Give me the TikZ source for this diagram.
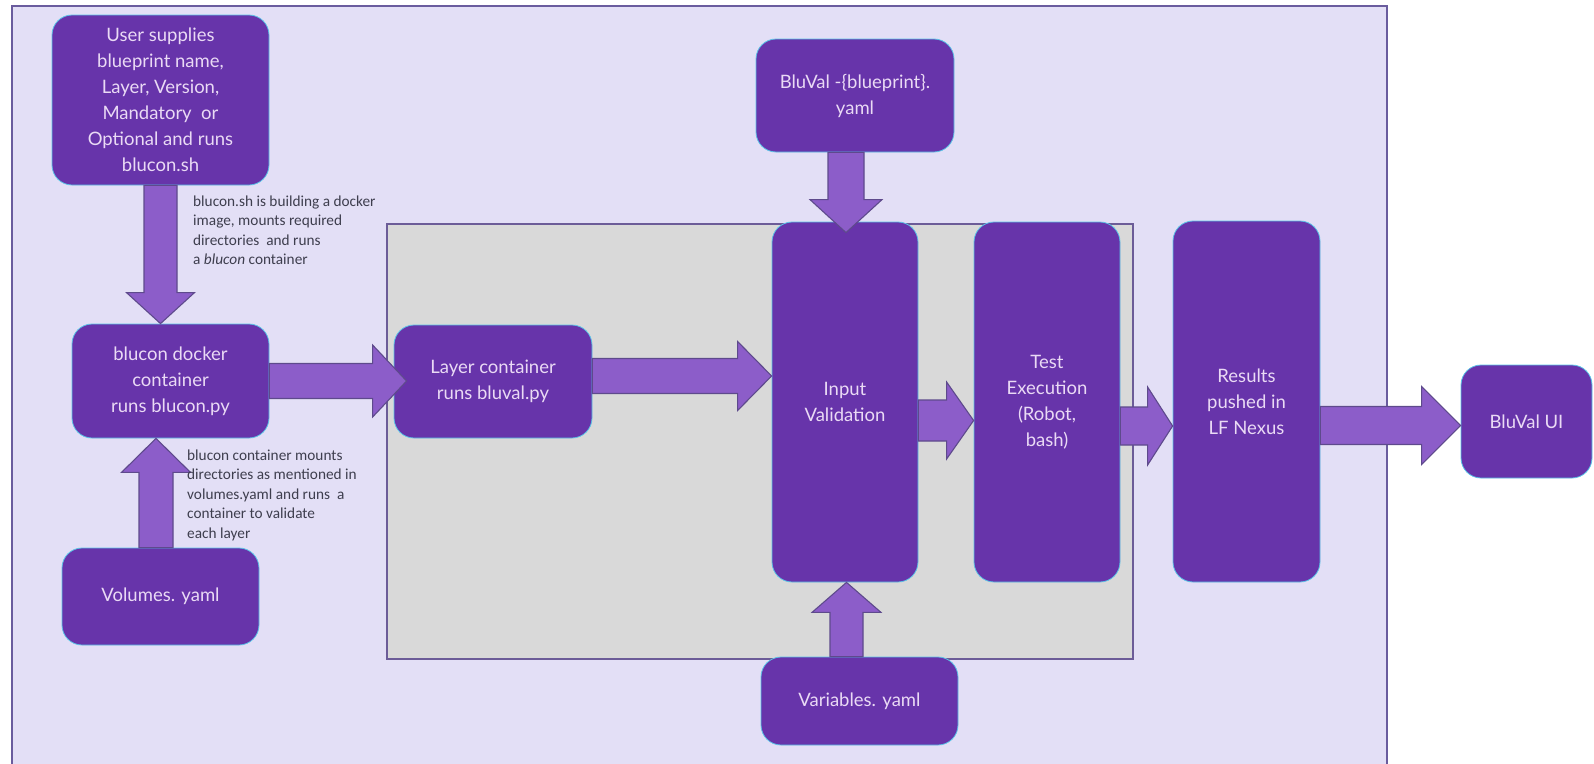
\documentclass[tikz,border=0pt]{standalone}
\usepackage{fontspec}
\setmainfont{Lato}
\newfontfamily\notefont{Carlito}
\usetikzlibrary{calc}

\definecolor{bgfill}{HTML}{E3DFF6}
\definecolor{bgedge}{HTML}{6A5C9E}
\definecolor{grayfill}{HTML}{D9D9D9}
\definecolor{grayedge}{HTML}{6C5C98}
\definecolor{boxfill}{HTML}{6734AA}
\definecolor{boxedge}{HTML}{5BC3E6}
\definecolor{boxtext}{HTML}{EADAF5}
\definecolor{arrowfill}{HTML}{8C5DC9}
\definecolor{arrowedge}{HTML}{5E4A8C}
\definecolor{notetext}{HTML}{3E3E4E}

\tikzset{
  box/.style={draw=boxedge, line width=0.8pt, fill=boxfill, rounded corners=20pt,
    text=boxtext, align=center, inner sep=0pt,
    font=\fontsize{18.5}{26}\selectfont},
  blockarrow/.style={fill=arrowfill, draw=arrowedge, line width=1.1pt, line join=miter},
  note/.style={text=notetext, font=\notefont\fontsize{15.3}{19.5}\selectfont,
    align=left, inner sep=0pt, anchor=north west}
}

% horizontal block arrow: starts at #1, tip at the x of #2 (same height as #1)
% #3 shaft half width, #4 head half width, #5 head length
\newcommand\harrow[5]{%
  \path[blockarrow] let \p1=(#1), \p2=(#2) in
    (\x1,{\y1+#3}) -- ({\x2-#5},{\y1+#3}) -- ({\x2-#5},{\y1+#4}) -- (\x2,\y1)
    -- ({\x2-#5},{\y1-#4}) -- ({\x2-#5},{\y1-#3}) -- (\x1,{\y1-#3}) -- cycle;}
% vertical block arrow: starts at #1, tip at the y of #2 (same x as #1)
% #5 signed head length (positive pointing down, negative pointing up)
\newcommand\varrow[5]{%
  \path[blockarrow] let \p1=(#1), \p2=(#2) in
    ({\x1-#3},\y1) -- ({\x1-#3},{\y2+#5}) -- ({\x1-#4},{\y2+#5}) -- (\x1,\y2)
    -- ({\x1+#4},{\y2+#5}) -- ({\x1+#3},{\y2+#5}) -- ({\x1+#3},\y1) -- cycle;}

\begin{document}
\begin{tikzpicture}[x=1pt,y=-1pt]
\useasboundingbox (0,0) rectangle (1594,763);

% panels
\draw[fill=bgfill, draw=bgedge, line width=1.2pt] (12,6) rectangle (1387,790);
\draw[fill=grayfill, draw=grayedge, line width=1.2pt] (387,224) rectangle (1133,659);

% boxes
\node[box, minimum width=217pt, minimum height=170pt] (user) at (160.5,100)
  {User supplies\\blueprint name,\\Layer, Version,\\Mandatory\ \ or\\Optional and runs\\blucon.sh};
\node[box, minimum width=197pt, minimum height=114pt] (blucon) at (170.5,381)
  {blucon docker\\container\\runs blucon.py};
\node[box, minimum width=197pt, minimum height=97pt] (vol) at (160.5,596.5)
  {Volumes. yaml};
\node[box, minimum width=198pt, minimum height=113pt] (lay) at (493,381.5)
  {Layer container\\runs bluval.py};
\node[box, minimum width=198pt, minimum height=113pt] (yaml) at (855,95.5)
  {BluVal -\{blueprint\}.\\yaml};
\node[box, minimum width=146pt, minimum height=360pt] (inp) at (845,402)
  {Input\\Validation};
\node[box, minimum width=146pt, minimum height=360pt] (test) at (1047,402)
  {Test\\Execution\\(Robot,\\bash)};
\node[box, minimum width=147pt, minimum height=361pt] (res) at (1246.5,401.5)
  {Results\\pushed in\\LF Nexus};
\node[box, minimum width=131pt, minimum height=113pt] (ui) at (1526.5,421.5)
  {BluVal UI};
\node[box, minimum width=197pt, minimum height=88pt] (var) at (859.5,701)
  {Variables. yaml};

% block arrows
\varrow{user.south}{user.south |- blucon.north}{16.5pt}{34pt}{31pt}
\varrow{[xshift=-4.5pt]vol.north}{blucon.south}{17pt}{34.5pt}{-34pt}
\harrow{blucon.east}{[xshift=13pt]lay.west}{17.5pt}{36pt}{34pt}
\harrow{[yshift=5.5pt]lay.east}{inp.west}{17.5pt}{34.5pt}{34pt}
\varrow{[xshift=-9pt]yaml.south}{[yshift=-11pt]inp.north}{18pt}{36pt}{33pt}
\varrow{[xshift=-13pt]var.north}{inp.south}{16.5pt}{34.5pt}{-30pt}
\harrow{[yshift=-18.5pt]inp.east}{test.west}{20.5pt}{38.5pt}{27pt}
\harrow{[yshift=-24pt]test.east}{res.west}{19pt}{39pt}{25pt}
\harrow{[yshift=-24pt]res.east}{ui.west}{19pt}{39pt}{39pt}

% notes
\node[note] (note1) at (193,195.5)
  {blucon.sh is building a docker\\image, mounts required\\directories\ \ and runs\\a \textit{blucon} container};
\node[note] (note2) at (187,449.5)
  {blucon container mounts\\directories as mentioned\ in\\volumes.yaml and runs\ \ a\\container to validate\\each layer};
\end{tikzpicture}
\end{document}
